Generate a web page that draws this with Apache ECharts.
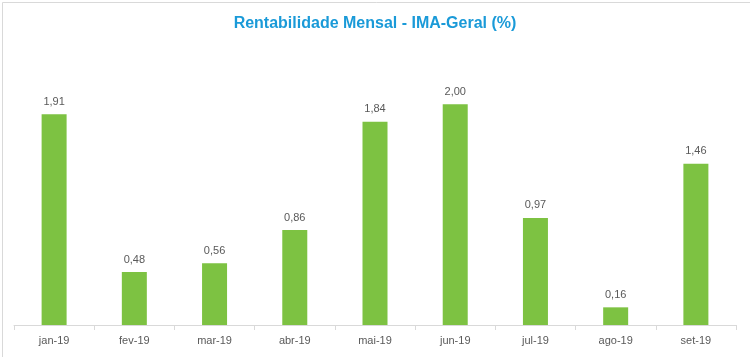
<!DOCTYPE html>
<html>
<head>
<meta charset="utf-8">
<script src="https://cdn.jsdelivr.net/npm/echarts@6/dist/echarts.min.js"></script>
<style>html,body{margin:0;padding:0;background:#fff}#c{width:750px;height:357px}</style>
</head>
<body>
<div id="c"></div>
<script>
const categories = ['jan-19','fev-19','mar-19','abr-19','mai-19','jun-19','jul-19','ago-19','set-19'];
const values = [1.91, 0.48, 0.56, 0.86, 1.84, 2.00, 0.97, 0.16, 1.46];
const titleText = 'Rentabilidade Mensal - IMA-Geral (%)';

const chart = echarts.init(document.getElementById('c'));
chart.setOption({
  animation: false,
  backgroundColor: '#fff',
  title: {
    text: titleText, left: 'center', top: 11,
    textStyle: { fontFamily: 'Liberation Sans', fontWeight: 'bold', fontSize: 16, color: '#1A9AD8' }
  },
  grid: { left: 14, right: 14, top: 49, bottom: 32 },
  xAxis: {
    type: 'category', data: categories,
    axisLine: { lineStyle: { color: '#D9D9D9', width: 1 } },
    axisTick: { show: true, length: 5, lineStyle: { color: '#D9D9D9' } },
    axisLabel: { color: '#595959', fontSize: 11, fontFamily: 'Liberation Sans', margin: 10 }
  },
  yAxis: { type: 'value', min: 0, max: 2.5, show: false, splitLine: { show: false } },
  series: [{
    type: 'bar', data: values, barWidth: 25,
    itemStyle: { color: '#7DC242' },
    label: {
      show: true, position: 'top', distance: 7,
      color: '#595959', fontSize: 11, fontFamily: 'Liberation Sans',
      formatter: p => p.value.toFixed(2).replace('.', ',')
    }
  }],
  graphic: [{
    type: 'rect', left: 0, top: 0, silent: true,
    shape: { x: 0.5, y: 0.5, width: 749, height: 356 },
    style: { fill: null, stroke: '#D9D9D9', lineWidth: 1 }
  }]
});
</script>
</body>
</html>
